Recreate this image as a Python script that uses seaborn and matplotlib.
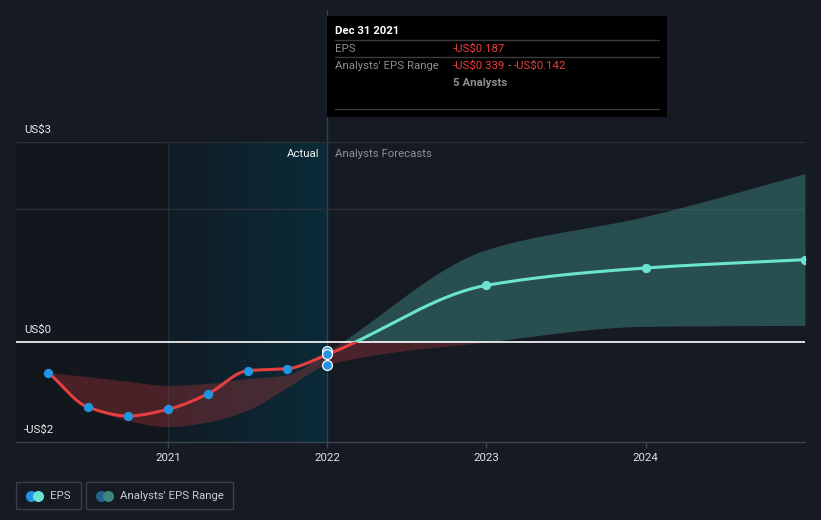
import numpy as np
import pandas as pd
import matplotlib
matplotlib.use("Agg")
import matplotlib.pyplot as plt
import seaborn as sns
from matplotlib.patches import Rectangle, FancyBboxPatch
from matplotlib.colors import LinearSegmentedColormap
from matplotlib.lines import Line2D

# ---------------- data ----------------
actual_x = [2020.25, 2020.5, 2020.75, 2021.0, 2021.25, 2021.5, 2021.75, 2022.0]
actual_eps = [-0.46, -0.98, -1.11, -1.01, -0.78, -0.43, -0.40, -0.187]
past_low = [-0.46, -0.95, -1.18, -1.27, -1.20, -1.02, -0.68, -0.339]
past_high = [-0.46, -0.52, -0.59, -0.65, -0.62, -0.55, -0.49, -0.142]

forecast_x = [2022.0, 2023.0, 2024.0, 2025.0]
forecast_eps = [-0.187, 0.85, 1.11, 1.235]
forecast_low = [-0.339, 0.0, 0.235, 0.25]
forecast_high = [-0.142, 1.385, 1.885, 2.525]

year_ticks = [2021, 2022, 2023, 2024]
year_labels = ["2021", "2022", "2023", "2024"]
y_labels = ["US$3", "US$0", "-US$2"]

# ---------------- style ----------------
BG = "#151a23"
RED = "#e5403f"
TEAL = "#6be3cf"
BLUE = "#2394df"
FS = 8.2

sns.set_theme(style="dark")
plt.rcParams["font.family"] = ["Roboto", "DejaVu Sans"]

W, H = 821, 520
fig = plt.figure(figsize=(W / 100, H / 100), dpi=100, facecolor=BG)
ax = fig.add_axes([16 / W, (H - 442) / H, (805 - 16) / W, (442 - 142) / H])
ax.set_facecolor(BG)
XMIN, XMAX = 2020.046, 2025.0
YMIN, YMAX = -1.5, 3.0


def px(x, y):
    return x / W, 1 - y / H


def mono_cubic(xs, ys, n=400):
    xs = np.asarray(xs, float)
    ys = np.asarray(ys, float)
    h = np.diff(xs)
    d = np.diff(ys) / h
    m = np.zeros_like(ys)
    m[0], m[-1] = d[0], d[-1]
    for i in range(1, len(xs) - 1):
        if d[i - 1] * d[i] <= 0:
            m[i] = 0
        else:
            w1 = 2 * h[i] + h[i - 1]
            w2 = h[i] + 2 * h[i - 1]
            m[i] = (w1 + w2) / (w1 / d[i - 1] + w2 / d[i])
    xo = np.linspace(xs[0], xs[-1], n)
    yo = np.empty_like(xo)
    for j, xv in enumerate(xo):
        i = min(np.searchsorted(xs, xv, side="right") - 1, len(xs) - 2)
        t = (xv - xs[i]) / h[i]
        h00 = 2 * t**3 - 3 * t**2 + 1
        h10 = t**3 - 2 * t**2 + t
        h01 = -2 * t**3 + 3 * t**2
        h11 = t**3 - t**2
        yo[j] = h00 * ys[i] + h10 * h[i] * m[i] + h01 * ys[i + 1] + h11 * h[i] * m[i + 1]
    return xo, yo


# backgrounds
ax.axvspan(XMIN, 2021.0, color="#12161d", zorder=0, lw=0)
cmap = LinearSegmentedColormap.from_list("hl", ["#111c26", "#0a2b38"])
ax.imshow(np.linspace(0, 1, 256).reshape(1, -1), cmap=cmap, aspect="auto",
          extent=[2021.0, 2022.0, YMIN, YMAX], zorder=0.5)
ax.axvline(2021.0, color="#17303c", lw=1, zorder=1)
ax.plot([2022.0, 2022.0], [YMIN, (342.3 - 10) / 66.67], color="#284452", lw=1,
        zorder=1, clip_on=False)

# gridlines
for gv in [3.0, 2.0]:
    ax.axhline(gv, color="#2b313b", lw=1, zorder=1)
ax.axhline(0, color="#ffffff", lw=1.2, zorder=3)

# bands
band_x = actual_x + forecast_x[1:]
band_low = past_low + forecast_low[1:]
band_high = past_high + forecast_high[1:]
bx, blo = mono_cubic(band_x, band_low, 600)
_, bhi = mono_cubic(band_x, band_high, 600)
ax.fill_between(bx, np.minimum(blo, 0), np.minimum(bhi, 0), color="#c0393c",
                alpha=0.32, lw=0, zorder=2)
ax.fill_between(bx, np.maximum(blo, 0), np.maximum(bhi, 0), color="#3d7f7a",
                alpha=0.52, lw=0, zorder=2)

# EPS line
line_x = actual_x + forecast_x[1:]
line_y = actual_eps + forecast_eps[1:]
lx, ly = mono_cubic(line_x, line_y, 800)
df_line = pd.DataFrame({"x": lx, "y": ly})
sns.lineplot(data=df_line, x="x", y="y", ax=ax, color=RED, lw=2.2, zorder=4,
             estimator=None, sort=False)
sns.lineplot(data=df_line, x="x", y="y", ax=ax, color=TEAL, lw=2.2, zorder=4,
             estimator=None, sort=False)
lines = ax.get_lines()
neg_clip = Rectangle((XMIN - 1, -10), 10, 10, transform=ax.transData)
pos_clip = Rectangle((XMIN - 1, 0), 10, 10, transform=ax.transData)
lines[-2].set_clip_path(neg_clip)
lines[-1].set_clip_path(pos_clip)

# points
df_act = pd.DataFrame({"x": actual_x[:-1], "y": actual_eps[:-1]})
sns.scatterplot(data=df_act, x="x", y="y", ax=ax, color=BLUE, s=45,
                edgecolor=BLUE, linewidth=0, zorder=5)
df_fc = pd.DataFrame({"x": forecast_x[1:], "y": forecast_eps[1:]})
sns.scatterplot(data=df_fc, x="x", y="y", ax=ax, color=TEAL, s=45,
                edgecolor=TEAL, linewidth=0, zorder=5)
df_now = pd.DataFrame({"x": [2022.0] * 3,
                       "y": [forecast_low[0], forecast_high[0], forecast_eps[0]]})
sns.scatterplot(data=df_now, x="x", y="y", ax=ax, color=BLUE, s=50,
                edgecolor="white", linewidth=0.9, zorder=6)

ax.set_xlim(XMIN, XMAX)
ax.set_ylim(YMIN, YMAX)
ax.set_xlabel("")
ax.set_ylabel("")
ax.set_yticks([])
ax.set_xticks(year_ticks)
ax.set_xticklabels(year_labels, color="#dfe3e8", fontsize=FS)
ax.tick_params(axis="x", length=4, color="#3d434d", width=1, pad=4, bottom=True)
for s in ["top", "left", "right"]:
    ax.spines[s].set_visible(False)
ax.spines["bottom"].set_color("#3d434d")
ax.spines["bottom"].set_linewidth(1)
ax.grid(False)

# y labels
for lab, yy in zip(y_labels, [130, 330, 430]):
    fig.text(*px(24, yy), lab, color="#e8ebef", fontsize=FS, va="center", ha="left")

# Actual / Analysts Forecasts
fig.text(*px(319, 154), "Actual", color="#eef0f3", fontsize=FS, va="center", ha="right")
fig.text(*px(335, 154), "Analysts Forecasts", color="#8b919a", fontsize=FS,
         va="center", ha="left")

# tooltip
fig.add_artist(Rectangle(px(327, 117), 340 / W, 101 / H, transform=fig.transFigure,
                         facecolor="#000000", edgecolor="none", zorder=10))
for yy in [40, 57, 109]:
    fig.add_artist(Line2D([335 / W, 659 / W], [1 - yy / H] * 2, transform=fig.transFigure,
                          color="#3b3b3b", lw=1, zorder=11))
fig.text(*px(335, 31), "Dec 31 2021", color="white", fontsize=FS, fontweight="bold",
         va="center", zorder=12)
fig.text(*px(335, 48.5), "EPS", color="#8e8e8e", fontsize=FS, va="center", zorder=12)
fig.text(*px(453, 48.5), "-US$0.187", color="#e8403f", fontsize=FS, va="center", zorder=12)
fig.text(*px(335, 66), "Analysts' EPS Range", color="#8e8e8e", fontsize=FS,
         va="center", zorder=12)
fig.text(*px(453, 66), "-US$0.339", color="#e8403f", fontsize=FS, va="center", zorder=12)
fig.text(*px(509, 66), "-", color="#8e8e8e", fontsize=FS, va="center", ha="center",
         zorder=12)
fig.text(*px(514, 66), "-US$0.142", color="#e8403f", fontsize=FS, va="center", zorder=12)
fig.text(*px(453, 83), "5 Analysts", color="#8e8e8e", fontsize=FS, fontweight="bold",
         va="center", zorder=12)

# legend
for (x0, x1) in [(16.5, 81.5), (86.5, 233.5)]:
    fig.add_artist(FancyBboxPatch(px(x0, 509.5), (x1 - x0) / W, 27 / H,
                                  boxstyle="round,pad=0,rounding_size=0.002",
                                  transform=fig.transFigure, facecolor="none",
                                  edgecolor="#3a404a", lw=1))
legend_dots = [((31, 496), BLUE), ((38, 496), TEAL), ((101, 496), "#23608c"),
               ((108, 496), "#3e857f")]
for (cx, cy), col in legend_dots:
    fig.add_artist(Line2D([cx / W], [1 - cy / H], transform=fig.transFigure,
                          marker="o", markersize=8, color=col, markeredgewidth=0,
                          linestyle="none"))
fig.text(*px(50, 496), "EPS", color="#c9cdd3", fontsize=FS, va="center")
fig.text(*px(120, 496), "Analysts' EPS Range", color="#c9cdd3", fontsize=FS, va="center")

fig.savefig("out.png", dpi=100, facecolor=BG)
